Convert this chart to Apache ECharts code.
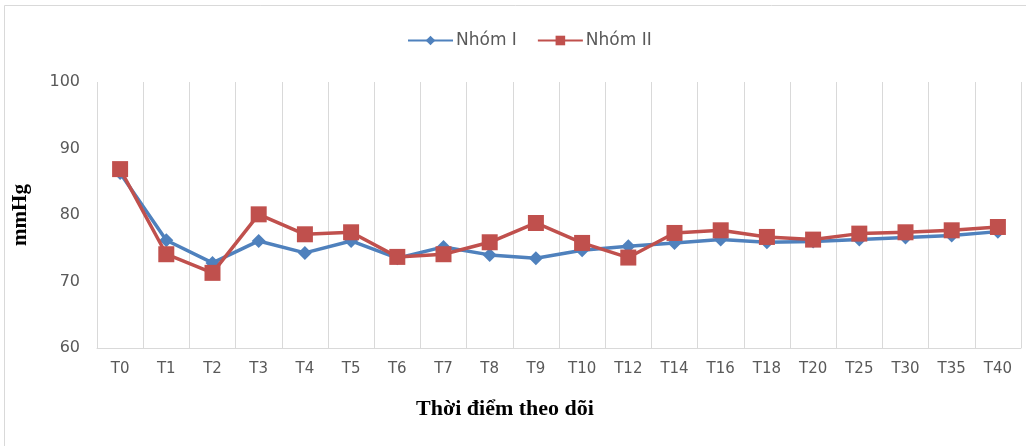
<!DOCTYPE html>
<html>
<head>
<meta charset="utf-8">
<script src="https://cdn.jsdelivr.net/npm/echarts@6/dist/echarts.min.js"></script>
<style>
  html, body { margin: 0; padding: 0; background: #fff; }
  #chart { width: 1026px; height: 446px; }
</style>
</head>
<body>
<div id="chart"></div>
<script>
// Follow-up time points
const categories = ['T0','T1','T2','T3','T4','T5','T6','T7','T8','T9','T10','T12','T14','T16','T18','T20','T25','T30','T35','T40'];
// Mean blood pressure (mmHg) per group
const nhomI  = [86.3, 76.2, 72.8, 76.1, 74.3, 76.1, 73.5, 75.2, 74.0, 73.5, 74.7, 75.3, 75.8, 76.3, 75.9, 76.0, 76.3, 76.6, 76.9, 77.5];
const nhomII = [86.9, 74.1, 71.3, 80.1, 77.1, 77.4, 73.7, 74.1, 75.9, 78.8, 75.8, 73.6, 77.3, 77.7, 76.7, 76.3, 77.2, 77.4, 77.7, 78.2];
// Value axis ticks
const yMin = 60, yMax = 100, yStep = 10;

const chart = echarts.init(document.getElementById('chart'), null, { renderer: 'canvas' });

chart.setOption({
  animation: false,
  backgroundColor: '#ffffff',
  legend: {
    top: 27,
    left: 402,
    itemWidth: 45,
    itemHeight: 12,
    itemGap: 20,
    textStyle: { color: '#595959', fontSize: 17, fontFamily: '"DejaVu Sans", sans-serif', padding: [0, 0, 0, -2] },
    data: ['Nhóm I', 'Nhóm II']
  },
  grid: { left: 97, right: 5, top: 82, bottom: 98, containLabel: false },
  xAxis: {
    type: 'category',
    data: categories,
    boundaryGap: true,
    axisLine: { show: true, lineStyle: { color: '#d9d9d9', width: 1 } },
    axisTick: { show: false },
    splitLine: { show: true, interval: 0, lineStyle: { color: '#d9d9d9', width: 1 } },
    axisLabel: { color: '#595959', fontSize: 15, margin: 14, interval: 0, fontFamily: '"DejaVu Sans", sans-serif' }
  },
  yAxis: {
    type: 'value',
    min: yMin, max: yMax, interval: yStep,
    name: 'mmHg',
    nameLocation: 'middle',
    nameGap: 66,
    nameTextStyle: { color: '#000', fontSize: 21, fontWeight: 'bold', fontFamily: '"Liberation Serif", "DejaVu Serif", serif' },
    axisLine: { show: false },
    axisTick: { show: false },
    splitLine: { show: false },
    axisLabel: { color: '#595959', fontSize: 16, margin: 17, fontFamily: '"DejaVu Sans", sans-serif' }
  },
  graphic: [
    {
      type: 'rect',
      shape: { x: 4.5, y: 5.5, width: 1040, height: 460 },
      style: { fill: 'none', stroke: '#d9d9d9', lineWidth: 1 },
      silent: true
    },
    {
      type: 'text',
      x: 505, y: 409,
      style: {
        text: 'Thời điểm theo dõi',
        fill: '#000',
        font: 'bold 22px "Liberation Serif", "DejaVu Serif", serif',
        textAlign: 'center',
        textVerticalAlign: 'middle'
      }
    }
  ],
  series: [
    {
      name: 'Nhóm I',
      type: 'line',
      data: nhomI,
      symbol: 'diamond',
      symbolSize: 14,
      color: '#4F81BD',
      lineStyle: { width: 3.5, color: '#4F81BD' },
      itemStyle: { color: '#4F81BD' },
      z: 2
    },
    {
      name: 'Nhóm II',
      type: 'line',
      data: nhomII,
      symbol: 'rect',
      symbolSize: 16,
      color: '#C0504D',
      lineStyle: { width: 3.5, color: '#C0504D' },
      itemStyle: { color: '#C0504D' },
      z: 3
    }
  ]
});
</script>
</body>
</html>
